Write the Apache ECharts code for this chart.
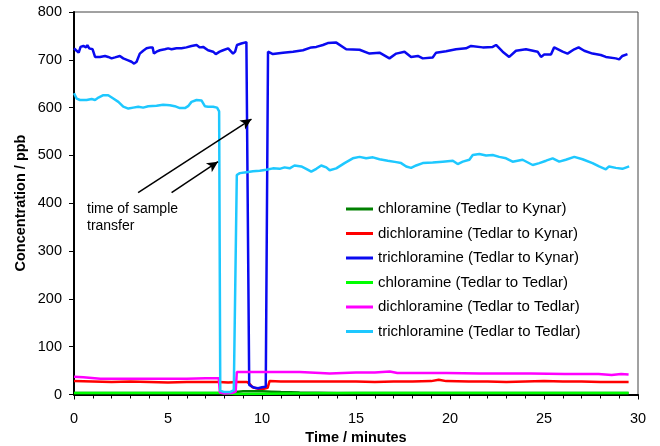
<!DOCTYPE html>
<html>
<head>
<meta charset="utf-8">
<script src="https://cdn.jsdelivr.net/npm/echarts@6/dist/echarts.min.js"></script>
<style>
  html, body { margin: 0; padding: 0; background: #fff; }
  #main { width: 660px; height: 446px; }
</style>
</head>
<body>
<div id="main"></div>
<script>
// series names (legend order)
const names = [
  'chloramine (Tedlar to Kynar)',
  'dichloramine (Tedlar to Kynar)',
  'trichloramine (Tedlar to Kynar)',
  'chloramine (Tedlar to Tedlar)',
  'dichloramine (Tedlar to Tedlar)',
  'trichloramine (Tedlar to Tedlar)'
]
const colors = ['#008000', '#ff0000', '#0a0af0', '#00ff00', '#ff00ff', '#1ec8ff']

// [time in minutes, concentration in ppb]
const chloKynar = [[0,3],[7.7,3],[8.0,3],[8.6,5],[9,7],[10,7],[10.5,6],[11,5],[12,4],[14,3],[29.5,3]]
const dichloKynar = [[0,28],[1,27],[2,26],[3,27],[4,26],[5,25],[6,26],[7,26],[7.7,26],[8.2,25],[8.7,26],[9.2,26],[9.35,22],[9.5,15],[9.8,12],[10.1,12],[10.3,14],[10.4,28],[11,27],[12,27],[13,27],[14,27],[15,27],[16,26],[17,27],[18,27],[19,28],[19.4,31],[19.8,28],[21,27],[22,27],[23,26],[24,27],[25,28],[26,27],[27,27],[28,26],[29,26],[29.5,26]]
const trichloKynar = [[0,724],[0.11,720],[0.25,715],[0.35,727],[0.5,729],[0.64,726],[0.71,731],[0.81,724],[0.88,727],[0.99,722],[1.12,706],[1.38,706],[1.65,708],[1.82,706],[2.0,703],[2.18,705],[2.44,708],[2.62,703],[2.88,699],[3.06,696],[3.2,692],[3.33,696],[3.5,713],[3.68,719],[3.86,724],[4.07,726],[4.18,726],[4.25,713],[4.39,717],[4.57,720],[4.83,722],[5.01,724],[5.19,722],[5.45,724],[5.72,724],[5.98,726],[6.25,729],[6.52,731],[6.69,726],[6.87,727],[7.13,720],[7.4,717],[7.54,712],[7.75,717],[7.93,720],[8.2,724],[8.46,713],[8.57,717],[8.67,731],[8.9,734],[9.17,737],[9.26,737],[9.32,20],[9.45,17],[9.6,14],[9.8,13],[10.0,15],[10.2,16],[10.28,20],[10.32,717],[10.58,712],[11.12,715],[11.65,717],[12.18,720],[12.62,726],[12.89,727],[13.24,731],[13.5,735],[13.6,737],[13.95,736],[14.48,722],[15.19,721],[15.72,713],[16.25,715],[16.78,703],[17.14,713],[17.58,717],[17.93,706],[18.29,708],[18.55,703],[19.08,705],[19.26,715],[19.79,718],[20.32,722],[20.85,724],[21.12,729],[21.74,726],[22.27,727],[22.45,731],[22.8,717],[23.15,706],[23.51,719],[24.04,722],[24.66,717],[24.84,706],[25.01,711],[25.37,711],[25.54,726],[25.99,717],[26.25,713],[26.61,722],[26.84,726],[27.14,719],[27.58,713],[28.02,710],[28.29,706],[28.82,703],[29.0,701],[29.17,708],[29.44,712]]
const chloTedlar = [[0,3],[5,3],[7.7,3],[7.8,1],[8.6,1],[8.7,3],[15,3],[20,3],[25,3],[29.5,3]]
const dichloTedlar = [[0,37],[0.5,36],[1.4,33],[3,33],[5,33],[6,33],[7,34],[7.7,34],[7.76,4],[8.0,2],[8.4,3],[8.6,6],[8.66,47],[10,47],[12,47],[13.1,45],[13.6,44],[15,46],[16,46],[16.8,48],[17.2,45],[18,45],[19.8,45],[21.6,44],[24.3,44],[26.1,43],[27.9,43],[28.6,41],[29.1,43],[29.5,42]]
const trichloTedlar = [[0,630],[0.14,619],[0.32,616],[0.67,616],[0.94,618],[1.12,616],[1.3,621],[1.56,626],[1.82,626],[2.09,619],[2.36,612],[2.62,602],[2.89,598],[3.15,600],[3.42,602],[3.68,600],[3.95,603],[4.39,604],[4.74,606],[5.1,605],[5.36,603],[5.63,599],[5.9,599],[6.07,603],[6.25,612],[6.52,616],[6.78,615],[6.96,603],[7.13,602],[7.4,602],[7.61,600],[7.72,592],[7.78,8],[8.0,5],[8.3,5],[8.5,9],[8.6,10],[8.66,459],[8.82,463],[9.17,465],[9.52,467],[9.88,468],[10.23,470],[10.58,473],[10.94,472],[11.2,475],[11.47,473],[11.73,479],[12.09,477],[12.35,472],[12.62,466],[12.89,472],[13.15,479],[13.42,475],[13.6,469],[13.95,473],[14.39,484],[14.83,494],[15.19,497],[15.54,494],[15.9,496],[16.25,492],[16.69,489],[17.14,486],[17.4,484],[17.67,477],[17.93,474],[18.2,479],[18.55,484],[19.08,485],[19.61,487],[20.15,489],[20.41,482],[20.68,487],[21.03,491],[21.21,501],[21.56,503],[21.92,500],[22.27,501],[22.62,497],[22.98,494],[23.33,487],[23.86,491],[24.4,480],[24.75,484],[25.11,489],[25.46,494],[25.81,487],[26.16,491],[26.61,497],[27.05,492],[27.58,484],[27.93,477],[28.29,471],[28.46,477],[28.82,474],[29.17,472],[29.53,477]]

// annotation arrows: [from, to] in data coords
const arrows = [
  [[3.41, 422], [9.44, 576]],
  [[5.19, 422], [7.66, 487]]
]

const allData = [chloKynar, dichloKynar, trichloKynar, chloTedlar, dichloTedlar, trichloTedlar]
const font = 'Liberation Sans, Arial, sans-serif'

const chart = echarts.init(document.getElementById('main'))

const series = allData.map((d, i) => ({
  name: names[i],
  type: 'line',
  data: d,
  showSymbol: false,
  symbol: 'none',
  color: colors[i],
  lineStyle: { width: 2.5, color: colors[i] },
  emphasis: { disabled: true }
}))

series[5].markLine = {
  silent: true,
  symbol: ['none', 'arrow'],
  symbolSize: [8, 11],
  label: { show: false },
  lineStyle: { color: '#000', width: 1.5, type: 'solid' },
  emphasis: { disabled: true },
  data: arrows.map(a => [{ coord: a[0] }, { coord: a[1] }])
}

const option = {
  animation: false,
  grid: {
    left: 74, right: 22, top: 12, bottom: 51.5,
    outerBoundsMode: 'none',
    containLabel: false,
    show: true, borderColor: '#444', borderWidth: 1
  },
  legend: {
    orient: 'vertical',
    left: 346,
    top: 201.5,
    padding: 0,
    icon: 'rect',
    itemWidth: 27,
    itemHeight: 3,
    itemGap: 9.5,
    data: names,
    textStyle: { fontFamily: font, fontSize: 15, color: '#000', lineHeight: 15 }
  },
  xAxis: {
    type: 'value',
    min: 0, max: 30, interval: 5,
    name: 'Time / minutes',
    nameLocation: 'middle',
    nameGap: 35.5,
    nameTextStyle: { fontFamily: font, fontSize: 14.5, fontWeight: 'bold', color: '#000' },
    axisLine: { show: true, lineStyle: { color: '#000', width: 2 } },
    axisTick: { show: true, length: 5, lineStyle: { color: '#000' } },
    minorTick: { show: true, splitNumber: 5, length: 4, lineStyle: { color: '#000' } },
    axisLabel: { fontFamily: font, fontSize: 14.5, color: '#000', margin: 16.5 },
    splitLine: { show: false }
  },
  yAxis: {
    type: 'value',
    min: 0, max: 800, interval: 100,
    axisLine: { show: true, lineStyle: { color: '#000', width: 2 } },
    axisTick: { show: true, length: 5, lineStyle: { color: '#000' } },
    axisLabel: { fontFamily: font, fontSize: 14.5, color: '#000', margin: 12 },
    splitLine: { show: false }
  },
  graphic: [
    {
      type: 'text',
      x: 21, y: 203,
      rotation: Math.PI / 2,
      style: {
        text: 'Concentration / ppb',
        font: 'bold 14.5px ' + font,
        fill: '#000',
        textAlign: 'center',
        textVerticalAlign: 'middle'
      }
    },
    {
      type: 'text',
      left: 87, top: 201,
      style: {
        text: 'time of sample\ntransfer',
        font: '14px ' + font,
        fill: '#000',
        lineHeight: 17
      }
    }
  ],
  series: series
}

chart.setOption(option)
</script>
</body>
</html>
